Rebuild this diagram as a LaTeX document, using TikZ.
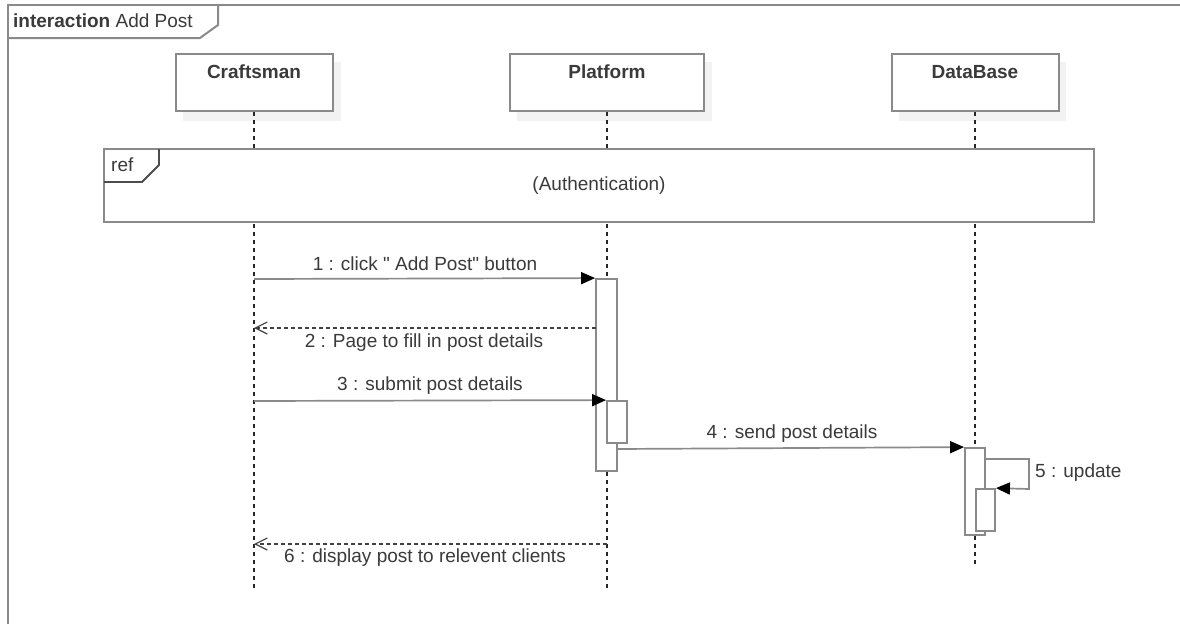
\documentclass[tikz,border=0pt]{standalone}
\usepackage{fontspec}
\setmainfont{Liberation Sans}[Ligatures=TeXOff]
\usetikzlibrary{arrows.meta}
\definecolor{lg}{HTML}{8A8A8A}
\definecolor{tx}{HTML}{3A3A3A}
\definecolor{shd}{HTML}{F2F2F2}
\begin{document}
\begin{tikzpicture}[x=1pt,y=-1pt,
  every node/.style={text=tx, font=\fontsize{19}{22}\selectfont},
  frameline/.style={draw=lg, line width=2pt},
  lifebox/.style={draw=lg, line width=2pt, fill=white, inner sep=0pt},
  headtext/.style={font=\fontsize{19}{22}\selectfont\bfseries},
  lifeline/.style={draw=black!85, line width=1.2pt, dash pattern=on 4pt off 4pt},
  actbox/.style={draw=lg, line width=1.8pt, fill=white, inner sep=0pt},
  msg/.style={draw=lg, line width=1.7pt, -{Triangle[length=14pt,width=12pt,color=black]}},
  reply/.style={draw=black!75, line width=1.3pt, dash pattern=on 4pt off 3pt, -{Straight Barb[length=12pt,width=12pt,color=black!75,line width=1.2pt]}},
  msglabel/.style={inner sep=1pt}
]
\useasboundingbox (0,0) rectangle (1180,624);
\fill[white] (0,0) rectangle (1180,624);

% outer interaction frame
\draw[frameline] (8,624) -- (8,5) -- (1180,5);
\draw[frameline] (8,38) -- (200,38) -- (218,25) -- (218,5);
\node[anchor=west, inner sep=0pt] (ftitle) at (13,21) {\textbf{interaction} Add Post};

% lifeline heads (shadows first)
\fill[shd] (183,62) rectangle (341,121);
\fill[shd] (517,62) rectangle (712,121);
\fill[shd] (899,62) rectangle (1066,121);
\node[lifebox, minimum width=157pt, minimum height=57pt] (craft) at (254,82.5) {};
\node[lifebox, minimum width=194pt, minimum height=57pt] (plat) at (607,82.5) {};
\node[lifebox, minimum width=167pt, minimum height=57pt] (db) at (975,82.5) {};
\node[headtext] (craftT) at (254,72) {Craftsman};
\node[headtext] (platT) at (607,72) {Platform};
\node[headtext] (dbT) at (975,72) {DataBase};

% lifeline ends
\coordinate (craftEnd) at (254,590);
\coordinate (platEnd) at (607,590);
\coordinate (dbEnd) at (975,565);
\draw[lifeline] (craft.south) -- (craftEnd);
\draw[lifeline] (plat.south) -- (platEnd);
\draw[lifeline] (db.south) -- (dbEnd);

% ref frame
\node[draw=lg, line width=2pt, fill=white, minimum width=990pt, minimum height=73pt, inner sep=0pt] (ref) at (599,185.5) {};
\draw[draw=black!70, line width=1.8pt] (104,182) -- (142,182) -- (159,165) -- (159,149);
\node[anchor=west, inner sep=0pt] (refT) at (111,165) {ref};
\node (auth) at (599,186) {(Authentication)};

% activations
\node[actbox, minimum width=21pt, minimum height=192pt] (p1) at (606.5,375) {};
\node[actbox, minimum width=20pt, minimum height=42pt] (p2) at (617,422) {};
\node[actbox, minimum width=20pt, minimum height=87pt] (d1) at (975,491.5) {};
\node[actbox, minimum width=19pt, minimum height=42pt] (d2) at (985.5,510) {};

% messages
\coordinate (m1s) at (254,279);
\draw[msg] (m1s) -- (p1.north west);
\node[msglabel] (l1) at (425,264) {1 : click " Add Post" button};

\coordinate (m2s) at (596,328);
\coordinate (m2e) at (254,328);
\draw[reply] (m2s) -- (m2e);
\node[msglabel] (l2) at (424,343) {2 : Page to fill in post details};

\coordinate (m3s) at (254,401);
\draw[msg] (m3s) -- (p2.north west);
\node[msglabel] (l3) at (430,386) {3 : submit post details};

\coordinate (m4s) at (617,449);
\draw[msg] (m4s) -- (d1.north west);
\node[msglabel] (l4) at (792,434) {4 : send post details};

\coordinate (m5s) at (985,459);
\draw[msg] (m5s) -- (1029,459) -- (1029,489) -- (d2.north east);
\node[msglabel, anchor=west] (l5) at (1034,473) {5 : update};

\coordinate (m6s) at (607,544);
\coordinate (m6e) at (254,544);
\draw[reply] (m6s) -- (m6e);
\node[msglabel] (l6) at (425,558) {6 : display post to relevent clients};
\end{tikzpicture}
\end{document}
